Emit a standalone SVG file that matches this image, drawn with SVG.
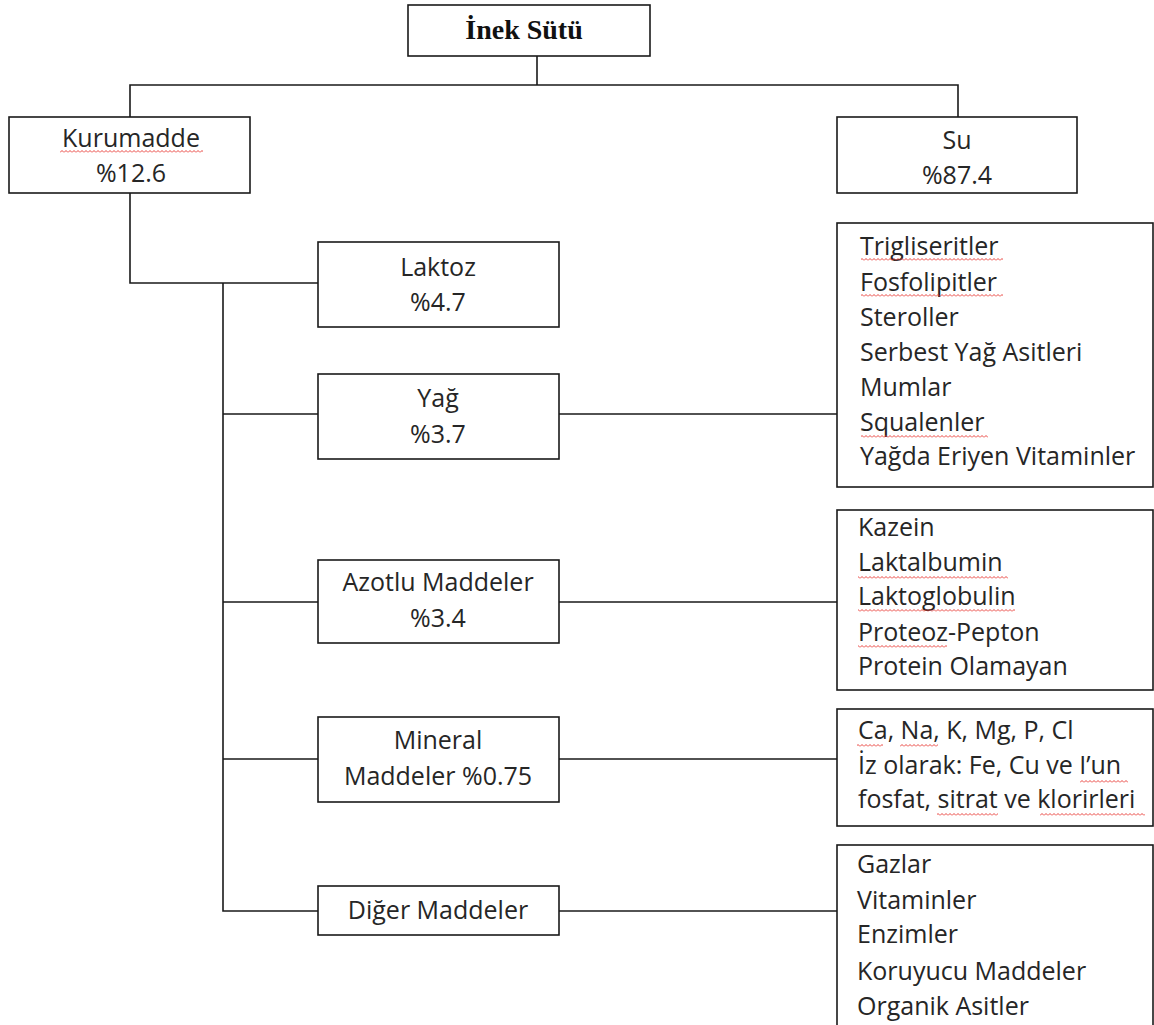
<svg xmlns="http://www.w3.org/2000/svg" width="1154" height="1025" viewBox="0 0 1154 1025">
<style>
.box{fill:#fff;stroke:#1a1a1a;stroke-width:1.6}
.ln{fill:none;stroke:#1a1a1a;stroke-width:1.6}
.t{font-family:"Open Sans","Noto Sans",sans-serif;font-size:25px;fill:#262626}
.c{text-anchor:middle}
.title{font-family:"Liberation Serif","Times New Roman",serif;font-size:28px;font-weight:bold;fill:#111;text-anchor:middle}
.sq{fill:url(#wave)}
</style>
<defs>
<pattern id="wave" patternUnits="userSpaceOnUse" width="4" height="3">
<path d="M0,2.5 L2,0.5 L4,2.5" fill="none" stroke="#e8302a" stroke-width="0.9"/>
</pattern>
</defs>
<rect width="1154" height="1025" fill="#fff"/>
<g id="connectors">
<path class="ln" d="M537,56 V85 M130,117 V85 H958 V117"/>
<path class="ln" d="M130,193 V283 H318"/>
<path class="ln" d="M223,283 V911 H318"/>
<path class="ln" d="M223,414 H318 M559,414 H837"/>
<path class="ln" d="M223,602 H318 M559,602 H837"/>
<path class="ln" d="M223,759 H318 M559,759 H837"/>
<path class="ln" d="M559,911 H837"/>
</g>
<g id="inek-sutu">
<rect class="box" x="408" y="5" width="242" height="51"/>
<text class="title" x="524" y="39">İnek Sütü</text>
</g>
<g id="kurumadde">
<rect class="box" x="9" y="117" width="241" height="76"/>
<text class="t c" x="131" y="147">Kurumadde</text>
<text class="t c" x="131" y="182">%12.6</text>
<rect class="sq" x="60" y="150" width="143" height="3"/>
</g>
<g id="su">
<rect class="box" x="837" y="117" width="240" height="76"/>
<text class="t c" x="957" y="149">Su</text>
<text class="t c" x="957" y="184">%87.4</text>
</g>
<g id="laktoz">
<rect class="box" x="318" y="242" width="241" height="85"/>
<text class="t c" x="438" y="276">Laktoz</text>
<text class="t c" x="438" y="311">%4.7</text>
</g>
<g id="yag">
<rect class="box" x="318" y="374" width="241" height="85"/>
<text class="t c" x="438" y="407">Yağ</text>
<text class="t c" x="438" y="443">%3.7</text>
</g>
<g id="azotlu">
<rect class="box" x="318" y="560" width="241" height="83"/>
<text class="t c" x="438" y="591">Azotlu Maddeler</text>
<text class="t c" x="438" y="627">%3.4</text>
</g>
<g id="mineral">
<rect class="box" x="318" y="717" width="241" height="85"/>
<text class="t c" x="438" y="749">Mineral</text>
<text class="t c" x="438" y="785">Maddeler %0.75</text>
</g>
<g id="diger">
<rect class="box" x="318" y="886" width="241" height="49"/>
<text class="t c" x="438" y="919">Diğer Maddeler</text>
</g>
<g id="yag-list">
<rect class="box" x="837" y="223" width="316" height="264"/>
<text class="t" x="860" y="255">Trigliseritler</text>
<text class="t" x="860" y="291">Fosfolipitler</text>
<text class="t" x="860" y="326">Steroller</text>
<text class="t" x="860" y="361">Serbest Yağ Asitleri</text>
<text class="t" x="860" y="396">Mumlar</text>
<text class="t" x="860" y="431">Squalenler</text>
<text class="t" x="860" y="465">Yağda Eriyen Vitaminler</text>
<rect class="sq" x="861" y="258" width="142" height="3"/>
<rect class="sq" x="861" y="294" width="142" height="3"/>
<rect class="sq" x="861" y="435" width="127" height="3"/>
</g>
<g id="azot-list">
<rect class="box" x="837" y="510" width="316" height="180"/>
<text class="t" x="858" y="536">Kazein</text>
<text class="t" x="858" y="571">Laktalbumin</text>
<text class="t" x="858" y="605">Laktoglobulin</text>
<text class="t" x="858" y="641">Proteoz-Pepton</text>
<text class="t" x="858" y="675">Protein Olamayan</text>
<rect class="sq" x="858" y="576" width="150" height="3"/>
<rect class="sq" x="858" y="609" width="157" height="3"/>
<rect class="sq" x="858" y="645" width="89" height="3"/>
</g>
<g id="mineral-list">
<rect class="box" x="837" y="709" width="316" height="117"/>
<text class="t" x="858" y="739">Ca, Na, K, Mg, P, Cl</text>
<text class="t" x="858" y="774">İz olarak: Fe, Cu ve I’un</text>
<text class="t" x="858" y="808">fosfat, sitrat ve klorirleri</text>
<rect class="sq" x="857" y="744" width="26" height="3"/>
<rect class="sq" x="900" y="744" width="38" height="3"/>
<rect class="sq" x="1080" y="780" width="48" height="3"/>
<rect class="sq" x="937" y="813" width="61" height="3"/>
<rect class="sq" x="1040" y="813" width="105" height="3"/>
</g>
<g id="diger-list">
<rect class="box" x="837" y="845" width="316" height="200"/>
<text class="t" x="857" y="873">Gazlar</text>
<text class="t" x="857" y="909">Vitaminler</text>
<text class="t" x="857" y="943">Enzimler</text>
<text class="t" x="857" y="980">Koruyucu Maddeler</text>
<text class="t" x="857" y="1015">Organik Asitler</text>
</g>
</svg>
